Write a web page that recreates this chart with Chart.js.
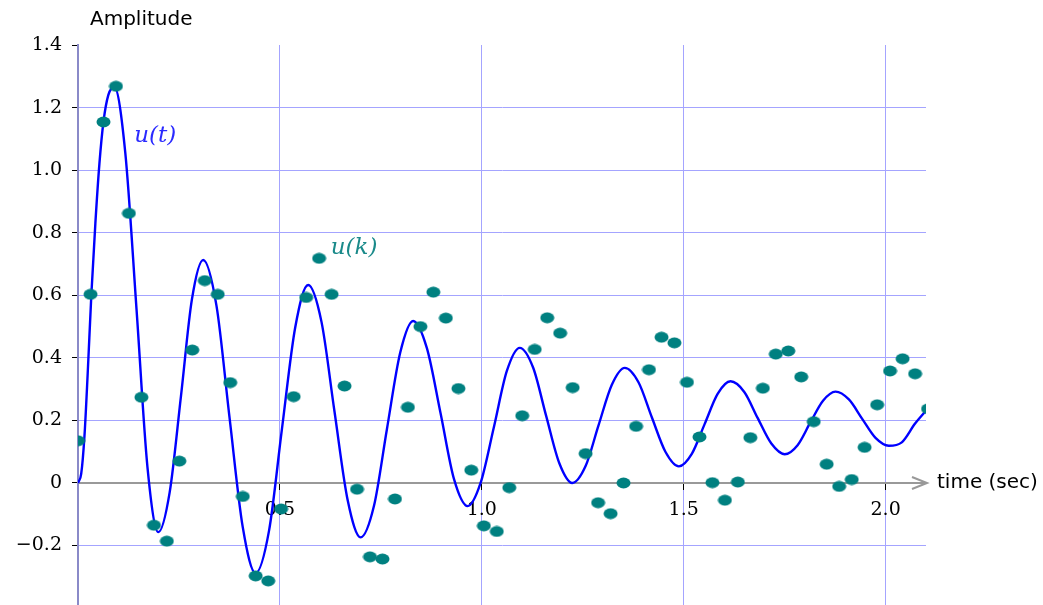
<!DOCTYPE html>
<html>
<head>
<meta charset="utf-8">
<script src="https://cdn.jsdelivr.net/npm/chart.js@4.4.0/dist/chart.umd.min.js"></script>
<style>
  html, body { margin: 0; padding: 0; background: #fff; }
</style>
</head>
<body>
<canvas id="chart" width="1043" height="605"></canvas>
<script>
// sampled signal u(k), one sample every ~0.0314 s
const sampleTimes = [0, 0.031, 0.063, 0.094, 0.126, 0.157, 0.188, 0.220, 0.251, 0.283,
  0.314, 0.346, 0.377, 0.408, 0.440, 0.471, 0.503, 0.534, 0.565, 0.597,
  0.628, 0.660, 0.691, 0.723, 0.754, 0.785, 0.817, 0.848, 0.880, 0.911,
  0.942, 0.974, 1.005, 1.037, 1.068, 1.100, 1.131, 1.162, 1.194, 1.225,
  1.257, 1.288, 1.319, 1.351, 1.382, 1.414, 1.445, 1.477, 1.508, 1.539,
  1.571, 1.602, 1.634, 1.665, 1.696, 1.728, 1.759, 1.791, 1.822, 1.854,
  1.885, 1.916, 1.948, 1.979, 2.011, 2.042, 2.073, 2.105];
const sampleValues = [0.135, 0.603, 1.154, 1.268, 0.862, 0.274, -0.135, -0.186, 0.070, 0.425,
  0.647, 0.603, 0.321, -0.043, -0.297, -0.313, -0.083, 0.276, 0.593, 0.718,
  0.603, 0.310, -0.020, -0.236, -0.243, -0.051, 0.242, 0.500, 0.610, 0.527,
  0.302, 0.041, -0.137, -0.155, -0.015, 0.215, 0.427, 0.528, 0.479, 0.305,
  0.094, -0.063, -0.098, 0.000, 0.181, 0.362, 0.466, 0.448, 0.322, 0.147,
  0.001, -0.055, 0.003, 0.145, 0.303, 0.412, 0.422, 0.339, 0.196, 0.060,
  -0.011, 0.011, 0.114, 0.250, 0.358, 0.397, 0.349, 0.237];

// continuous response u(t) (peaks, troughs and points between)
const curveTimes = [0, 0.008, 0.016, 0.024, 0.033, 0.043, 0.053, 0.063, 0.075, 0.090,
  0.117, 0.145, 0.172, 0.199,
  0.227, 0.255, 0.282, 0.310,
  0.343, 0.375, 0.408, 0.440,
  0.473, 0.505, 0.538, 0.570,
  0.603, 0.635, 0.668, 0.700,
  0.733, 0.765, 0.798, 0.830,
  0.864, 0.898, 0.931, 0.965,
  0.997, 1.030, 1.062, 1.094,
  1.127, 1.159, 1.192, 1.224,
  1.257, 1.289, 1.322, 1.354,
  1.388, 1.421, 1.455, 1.488,
  1.520, 1.552, 1.584, 1.616,
  1.650, 1.683, 1.717, 1.750,
  1.782, 1.813, 1.845, 1.876,
  1.909, 1.942, 1.975, 2.008,
  2.040, 2.073, 2.106];
const curveValues = [0, 0.03, 0.15, 0.35, 0.6, 0.83, 1.02, 1.154, 1.24, 1.265,
  1.057, 0.554, 0.051, -0.157,
  -0.030, 0.278, 0.586, 0.713,
  0.566, 0.212, -0.141, -0.288,
  -0.153, 0.172, 0.498, 0.633,
  0.515, 0.230, -0.056, -0.174,
  -0.073, 0.172, 0.417, 0.518,
  0.431, 0.222, 0.013, -0.074,
  0.000, 0.179, 0.358, 0.432,
  0.369, 0.216, 0.063, 0.000,
  0.054, 0.184, 0.314, 0.368,
  0.322, 0.210, 0.099, 0.053,
  0.093, 0.189, 0.285, 0.325,
  0.291, 0.208, 0.126, 0.092,
  0.121, 0.192, 0.263, 0.292,
  0.267, 0.205, 0.144, 0.119,
  0.130, 0.190, 0.240];

const xTicks = [0.5, 1.0, 1.5, 2.0];
const xTickLabels = ["0.5", "1.0", "1.5", "2.0"];
const yTicks = [-0.2, 0, 0.2, 0.4, 0.6, 0.8, 1.0, 1.2, 1.4];
const yTickLabels = ["\u22120.2", "0", "0.2", "0.4", "0.6", "0.8", "1.0", "1.2", "1.4"];

// where the two series names sit (data coordinates)
const curveLabelAt = { x: 0.139, y: 1.109 };
const sampleLabelAt = { x: 0.626, y: 0.751 };

const blue = "#0000ff";
const teal = "#008080";
const gridBlue = "#a4a4ff";

// elliptical marker for the samples
const dot = document.createElement("canvas");
dot.width = 15;
dot.height = 12;
const dctx = dot.getContext("2d");
dctx.fillStyle = teal;
dctx.beginPath();
dctx.ellipse(7.5, 6, 7, 5.4, 0, 0, Math.PI * 2);
dctx.fill();

// arrow on the time axis, axis titles, series names
const decorations = {
    id: "decorations",
    beforeDatasetsDraw(chart) {
        const c = chart.ctx;
        const area = chart.chartArea;
        const y0 = chart.scales.y.getPixelForValue(0);
        c.save();
        c.strokeStyle = "#999";
        c.lineWidth = 2;
        c.beginPath();
        c.moveTo(area.right - 14, y0 - 6);
        c.lineTo(area.right + 1, y0);
        c.lineTo(area.right - 14, y0 + 6);
        c.stroke();
        c.restore();
    },
    afterDraw(chart) {
        const c = chart.ctx;
        const area = chart.chartArea;
        const xs = chart.scales.x;
        const ys = chart.scales.y;
        c.save();
        c.textBaseline = "middle";
        c.textAlign = "left";
        c.fillStyle = "#000";
        c.font = "20px 'DejaVu Sans'";
        c.fillText("Amplitude", area.left + 12, 20);
        c.fillText("time (sec)", area.right + 11, ys.getPixelForValue(0));

        c.font = "italic 23px 'DejaVu Serif'";
        c.fillStyle = "#2a2aff";
        c.fillText("u(t)", xs.getPixelForValue(curveLabelAt.x), ys.getPixelForValue(curveLabelAt.y));
        c.fillStyle = "#1a8a8a";
        c.fillText("u(k)", xs.getPixelForValue(sampleLabelAt.x), ys.getPixelForValue(sampleLabelAt.y));
        c.restore();
    }
};

const ctx = document.getElementById("chart").getContext("2d");
new Chart(ctx, {
    type: "scatter",
    data: {
        datasets: [{
            label: "u(k)",
            data: sampleTimes.map((t, i) => ({ x: t, y: sampleValues[i] })),
            pointStyle: dot,
            pointRadius: 6,
            order: 0
        }, {
            label: "u(t)",
            data: curveTimes.map((t, i) => ({ x: t, y: curveValues[i] })),
            showLine: true,
            borderColor: blue,
            borderWidth: 2.4,
            pointRadius: 0,
            cubicInterpolationMode: "monotone",
            order: 1
        }]
    },
    options: {
        responsive: false,
        animation: false,
        layout: { autoPadding: false, padding: { left: 0, top: 45, right: 117, bottom: 0 } },
        plugins: {
            legend: { display: false },
            tooltip: { enabled: false }
        },
        scales: {
            x: {
                type: "linear",
                min: 0,
                max: 2.1,
                position: { y: 0 },
                afterBuildTicks: axis => { axis.ticks = xTicks.map(v => ({ value: v })); },
                afterFit: axis => {
                    axis.height = 0;
                    axis.paddingLeft = 0; axis.paddingRight = 0;
                    axis.paddingTop = 0; axis.paddingBottom = 0;
                },
                grid: { color: gridBlue, lineWidth: 1, tickColor: "#000", tickLength: 6 },
                border: { color: "#999", width: 2 },
                ticks: {
                    color: "#000",
                    font: { family: "'DejaVu Serif'", size: 19 },
                    padding: 10,
                    maxRotation: 0,
                    autoSkip: false,
                    callback: (v, i) => xTickLabels[i]
                }
            },
            y: {
                type: "linear",
                min: -0.39,
                max: 1.4,
                afterBuildTicks: axis => { axis.ticks = yTicks.map(v => ({ value: v })); },
                afterFit: axis => {
                    axis.width = 78;
                    axis.paddingTop = 0; axis.paddingBottom = 0;
                },
                grid: {
                    color: c => (c.tick && (c.tick.value === 0 || c.tick.value === 1.4)) ? "rgba(0,0,0,0)" : gridBlue,
                    lineWidth: 1,
                    tickColor: "#000",
                    tickLength: 6
                },
                border: { color: "#8a8ac8", width: 2 },
                ticks: {
                    color: "#000",
                    font: { family: "'DejaVu Serif'", size: 19 },
                    padding: 10,
                    autoSkip: false,
                    callback: (v, i) => yTickLabels[i]
                }
            }
        }
    },
    plugins: [decorations]
});
</script>
</body>
</html>
